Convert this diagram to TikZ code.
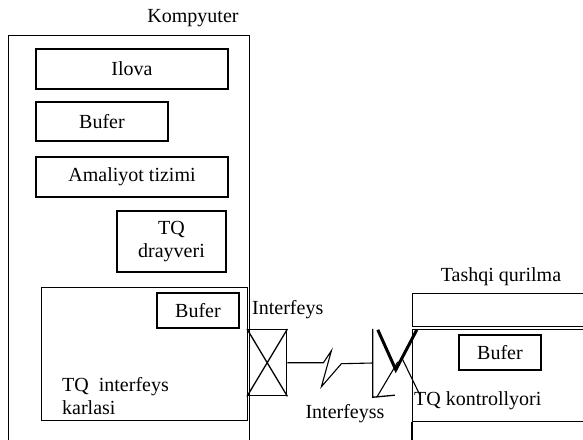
\documentclass[tikz,border=0pt]{standalone}
\usepackage{fontspec}
\setmainfont{Liberation Serif}
\usetikzlibrary{calc}
\begin{document}
\begin{tikzpicture}[x=1pt,y=-1pt,
  box/.style={draw,line width=1.1pt,inner sep=0pt,align=center},
  lbl/.style={inner sep=0pt,align=left},
  every node/.style={font=\fontsize{20}{23}\selectfont}]
  \useasboundingbox (0,0) rectangle (583,439);
  \clip (0,0) rectangle (583,439);
  %% Computer
  \node[lbl] (pclabel) at (193,18) {Kompyuter};
  \node[box,anchor=north west,minimum width=241pt,minimum height=430pt] (pc) at (8,35) {};
  \node[box,minimum width=192pt,minimum height=40pt] (ilova) at (132,69) {Ilova};
  \node[box,minimum width=132pt,minimum height=39pt] (bufa) at (102,121.5) {Bufer};
  \node[box,minimum width=192pt,minimum height=40pt] (os) at (132,177) {Amaliyot tizimi};
  \node[box,minimum width=109pt,minimum height=61pt] (drv) at (171.5,241.5) {TQ\\drayveri};
  %% Interface card
  \node[box,anchor=north west,minimum width=206pt,minimum height=133pt] (card) at (41,287) {};
  \node[box,minimum width=82pt,minimum height=35pt] (bufb) at (198,310.5) {Bufer};
  \node[lbl,anchor=west] (cardlabel) at (62,396) {TQ~ interfeys\\karlasi};
  %% Interface
  \node[lbl,anchor=west] (iflabel) at (252,310) {Interfeys};
  \node[box,line width=1.4pt,anchor=north west,minimum width=39pt,minimum height=66pt] (xl) at (247,329) {};
  \draw[line width=1.3pt] (xl.north west) -- (xl.south east)
                          (xl.north east) -- (xl.south west);
  \node[inner sep=0pt,minimum width=39pt,minimum height=68pt] (xr) at (392.5,363) {};
  \draw[line width=1.1pt] (xl.east) -- ++(36,0) -- ++(8,-12) -- ++(-10,36) -- ++(20,-23) -- (xr.west);
  \draw[line width=1.3pt] (xr.north west) -- (xr.south west) -- ++(22,-2);
  \draw[line width=3pt] ($(xr.north west)+(5,1)$) -- ($(xr.north west)+(23,41)$) -- ($(xr.north west)+(44,1)$);
  \draw[line width=1.1pt] ($(xr.south west)+(4,0)$) -- ($(xr.north west)+(25,33)$)
                          ($(xr.north west)+(29,29)$) -- ($(xr.north west)+(47,66)$);
  \node[lbl] (ifslabel) at (345,414) {Interfeyss};
  %% External device
  \node[lbl] (devlabel) at (501,277) {Tashqi qurilma};
  \node[box,anchor=north west,minimum width=190pt,minimum height=33pt] (dev) at (412,293) {};
  \node[box,anchor=north west,minimum width=190pt,minimum height=92pt] (ctrl) at (412,329) {};
  \draw[line width=1.1pt] (ctrl.south west) -- ++(0,30);
  \node[box,minimum width=82pt,minimum height=35pt] (bufc) at (500,352.5) {Bufer};
  \node[lbl,anchor=west] (ctrllabel) at (414,401) {TQ kontrollyori};
\end{tikzpicture}
\end{document}
